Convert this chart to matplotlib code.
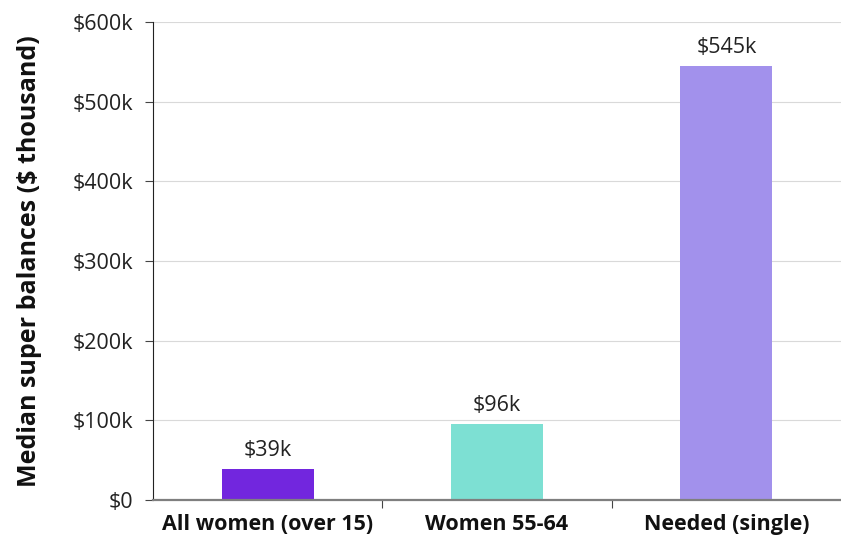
import matplotlib
matplotlib.use("Agg")
import matplotlib.pyplot as plt

categories = ["All women (over 15)", "Women 55-64", "Needed (single)"]
values = [39, 96, 545]
labels = ["$39k", "$96k", "$545k"]
colors = ["#7226DE", "#7DE0D3", "#A291EC"]
yticks = [0, 100, 200, 300, 400, 500, 600]
ytick_labels = ["$0", "$100k", "$200k", "$300k", "$400k", "$500k", "$600k"]

plt.rcParams['font.family'] = ['Open Sans', 'DejaVu Sans']

fig = plt.figure(figsize=(8.41, 5.42), dpi=100)
ax = fig.add_axes([153/841, 1-500/542, (841-153)/841, (500-22)/542])

x = list(range(len(categories)))
bars = ax.bar(x, values, width=0.4, color=colors, zorder=3)
for xi, v, lab in zip(x, values, labels):
    ax.text(xi, v + 10, lab, ha='center', va='bottom', fontsize=15.5, color='#222222')

ax.set_xlim(-0.5, 2.5)
ax.set_ylim(0, 600)
ax.set_yticks(yticks)
ax.set_yticklabels(ytick_labels, fontsize=15.5, color='#222222')
ax.yaxis.grid(True, color='#d9d9d9', linewidth=0.8, zorder=0)
ax.set_axisbelow(True)

ax.set_xticks([0.5, 1.5])
ax.set_xticklabels([])
ax.set_xticks(x, minor=True)
ax.set_xticklabels(categories, minor=True, fontsize=15.5, fontweight='bold', color='#111111')
ax.tick_params(axis='x', which='minor', length=0, pad=10)
ax.tick_params(axis='x', which='major', length=6, color='#444444')
ax.tick_params(axis='y', length=6, color='#444444', pad=8)

ax.spines['top'].set_visible(False)
ax.spines['right'].set_visible(False)
ax.spines['left'].set_color('#222222')
ax.spines['bottom'].set_color('#7f7f7f')
ax.spines['bottom'].set_linewidth(1.6)
ax.spines['bottom'].set_zorder(4)

ax.set_ylabel("Median super balances ($ thousand)", fontsize=18, fontweight='bold', color='#111111', labelpad=22)

fig.savefig("out.png", dpi=100)
